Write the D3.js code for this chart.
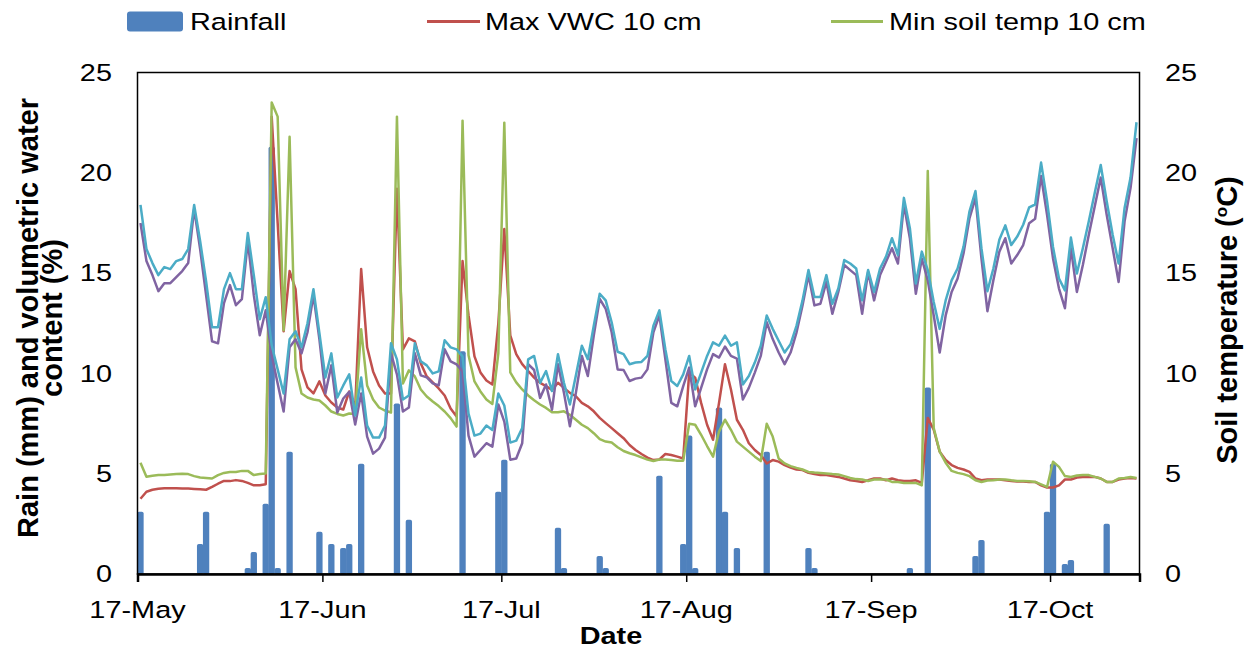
<!DOCTYPE html>
<html><head><meta charset="utf-8">
<script src="https://cdn.jsdelivr.net/npm/d3@7"></script>
<style>
html,body{margin:0;padding:0;background:#fff;}
svg{display:block;font-family:Arial,"Liberation Sans",sans-serif;}
</style></head>
<body><svg id="c" width="1250" height="651"></svg>
<script>
// ---------- data ----------
const startDate = "2017-05-17";
const endDate = "2017-11-01";
const xTickDates = ["2017-05-17","2017-06-17","2017-07-17","2017-08-17","2017-09-17","2017-10-17"];
const xTickLabels = ["17-May","17-Jun","17-Jul","17-Aug","17-Sep","17-Oct"];
const yTicks = [0,5,10,15,20,25];

const rainDates = ["2017-05-17","2017-05-27","2017-05-28","2017-06-04","2017-06-05","2017-06-07","2017-06-08","2017-06-09","2017-06-11",
 "2017-06-16","2017-06-18","2017-06-20","2017-06-21","2017-06-23","2017-06-29","2017-07-01","2017-07-10","2017-07-16","2017-07-17",
 "2017-07-26","2017-07-27","2017-08-02","2017-08-03","2017-08-12","2017-08-16","2017-08-17","2017-08-18","2017-08-22","2017-08-23",
 "2017-08-25","2017-08-30","2017-09-06","2017-09-07","2017-09-23","2017-09-26","2017-10-04","2017-10-05","2017-10-16","2017-10-17",
 "2017-10-19","2017-10-20","2017-10-26"];
const rainMm = [3.1,1.5,3.1,0.3,1.1,3.5,21.3,0.3,6.1,
 2.1,1.5,1.3,1.5,5.5,8.5,2.7,11.1,4.1,5.7,
 2.3,0.3,0.9,0.3,4.9,1.5,6.9,0.3,8.3,3.1,
 1.3,6.1,1.3,0.3,0.3,9.3,0.9,1.7,3.1,5.5,
 0.5,0.7,2.5];

// daily values from 17-May (168 days)
const maxVWC10 = [3.75,4.1,4.2,4.25,4.27,4.27,4.27,4.26,4.26,4.24,4.22,4.2,4.34,4.5,4.64,4.63,4.68,4.64,4.54,4.42,
 4.42,4.47,22.8,17.5,12.1,15.1,14.2,10.2,9.3,9.0,9.6,8.9,8.55,8.3,8.2,9.1,8.3,15.2,11.3,10.1,
 9.4,9.0,9.0,19.2,11.2,11.75,11.6,10.5,9.85,9.55,9.25,8.9,8.25,7.85,15.6,12.9,10.85,10.05,9.65,9.45,
 12.5,17.2,11.9,10.96,10.46,10.12,9.79,9.53,9.37,9.17,9.53,9.28,9.03,8.86,8.53,8.36,8.11,7.78,7.52,7.27,
 7.02,6.77,6.43,6.18,5.98,5.8,5.68,5.71,5.98,5.93,5.85,5.76,10.04,9.79,8.53,7.44,6.69,8.53,10.46,9.2,
 7.69,7.19,6.52,6.18,5.93,5.51,5.68,5.6,5.43,5.31,5.21,5.18,5.04,4.98,4.93,4.93,4.89,4.84,4.76,4.67,
 4.64,4.59,4.67,4.76,4.76,4.67,4.76,4.67,4.64,4.64,4.67,4.54,7.78,7.19,6.1,5.68,5.43,5.29,5.21,5.09,
 4.76,4.67,4.71,4.71,4.71,4.67,4.64,4.61,4.61,4.59,4.59,4.42,4.31,4.31,4.42,4.71,4.71,4.81,4.84,4.84,
 4.84,4.76,4.59,4.59,4.71,4.76,4.79,4.76];
const minSoilTemp10 = [5.55,4.85,4.9,4.93,4.93,4.96,4.98,5.0,4.98,4.88,4.81,4.79,4.76,4.93,5.04,5.09,5.09,5.14,5.14,4.93,
 4.98,5.01,23.5,22.8,12.15,21.8,10.3,9.0,8.8,8.7,8.65,8.4,8.1,7.98,7.9,8.0,7.98,12.2,9.4,8.7,
 8.3,8.15,8.05,22.8,9.5,10.15,9.85,9.2,8.85,8.6,8.37,8.1,7.77,7.35,22.6,10.9,9.6,9.1,8.7,8.48,
 11.0,22.5,10.05,9.55,9.2,8.9,8.66,8.45,8.28,8.06,8.06,8.11,7.94,7.69,7.44,7.27,7.02,6.72,6.6,6.55,
 6.32,6.13,6.02,5.93,5.81,5.7,5.63,5.71,5.71,5.68,5.65,5.65,7.49,7.44,6.94,6.38,5.85,7.1,7.69,7.19,
 6.6,6.35,6.1,5.85,5.63,7.49,6.85,5.76,5.51,5.38,5.29,5.21,5.09,5.06,5.04,5.01,4.98,4.96,4.88,4.79,
 4.73,4.71,4.64,4.71,4.71,4.71,4.59,4.59,4.54,4.54,4.54,4.42,20.09,7.27,6.1,5.55,5.14,5.04,4.98,4.88,
 4.67,4.59,4.66,4.67,4.71,4.71,4.67,4.64,4.64,4.62,4.59,4.47,4.34,5.6,5.34,4.88,4.84,4.91,4.93,4.93,
 4.84,4.76,4.59,4.59,4.76,4.79,4.84,4.79];
const soilTempA = [17.5,15.6,14.9,14.1,14.5,14.5,14.8,15.1,15.5,18.2,16.2,13.9,11.6,11.5,13.5,14.4,13.4,13.7,16.6,13.9,
 11.9,13.15,10.9,9.5,8.1,11.3,11.7,11.0,12.05,13.9,11.7,9.0,10.4,8.05,8.75,9.08,7.45,9.0,6.85,6.0,
 6.25,6.8,11.0,9.95,8.1,8.3,11.0,9.9,9.8,9.5,9.4,11.2,10.6,10.45,10.1,6.9,5.85,6.18,6.52,6.35,
 8.45,7.6,5.7,5.76,6.52,10.46,10.17,8.78,9.45,8.19,10.46,9.03,7.36,9.03,10.87,9.87,11.88,13.72,13.22,12.05,
 10.2,10.17,9.62,9.74,9.79,10.2,12.05,12.89,10.71,8.53,8.36,9.37,10.29,8.36,9.28,10.2,10.96,10.79,11.34,10.87,
 10.74,8.7,9.28,10.04,10.87,12.55,11.71,11.04,10.46,11.04,12.05,13.39,14.9,13.39,13.47,14.56,12.97,14.06,15.4,15.15,
 14.9,12.97,15.06,13.64,14.9,15.57,16.24,15.48,18.42,16.74,13.97,15.73,14.64,12.89,11.04,12.89,14.06,14.73,15.99,17.74,
 18.75,15.73,13.1,14.64,16.07,16.74,15.48,15.9,16.4,17.49,17.71,19.84,17.91,15.73,14.23,13.25,16.24,14.06,15.4,16.91,
 18.33,19.76,17.91,16.24,14.56,17.58,19.25,21.73];
const soilTempB = [18.4,16.2,15.5,14.9,15.3,15.2,15.6,15.7,16.2,18.4,16.6,14.6,12.3,12.3,14.2,15.0,14.2,14.2,17.0,14.9,
 12.7,13.8,11.4,10.2,9.0,11.7,12.1,11.3,12.5,14.2,12.0,9.8,11.0,8.8,9.4,9.95,7.9,9.8,7.4,6.8,
 6.8,7.4,11.5,10.7,8.7,8.9,11.5,10.6,10.4,10.0,10.1,11.65,11.3,11.2,10.85,8.0,6.9,7.0,7.4,7.18,
 9.0,8.4,6.55,6.65,7.27,10.7,10.87,9.53,10.12,9.12,10.96,9.53,8.45,9.9,11.38,10.71,12.38,13.97,13.64,12.55,
 11.08,10.96,10.46,10.54,10.57,10.87,12.38,13.14,11.21,9.62,9.37,9.95,10.87,9.2,10.04,10.87,11.55,11.38,11.88,11.38,
 11.55,9.45,9.87,10.54,11.38,12.89,12.22,11.63,11.04,11.46,12.38,13.64,15.15,13.81,13.81,14.9,13.47,14.23,15.65,15.48,
 15.23,13.64,15.15,14.06,15.23,15.82,16.74,15.9,18.75,17.24,14.48,16.07,15.15,13.56,12.22,13.64,14.64,15.23,16.32,18.08,
 19.09,16.24,14.1,15.23,16.66,17.38,16.4,16.82,17.41,18.28,18.42,20.51,18.6,16.3,14.73,14.14,16.77,14.98,16.24,17.58,
 19.0,20.39,18.58,16.91,15.48,18.25,19.76,22.52];

// ---------- layout ----------
const SX = 1.24; // horizontal text stretch seen in the picture
const plot = {left:137.5, right:1139.5, top:72.5, bottom:574};
const colors = {rain:"#4F81BD", red:"#C0504D", green:"#9BBB59", purple:"#8064A2", cyan:"#4BACC6"};

const parse = d3.utcParse("%Y-%m-%d");
const days = d3.utcDay.range(parse(startDate), parse(endDate));
const svg = d3.select("#c");

const x = d3.scaleUtc().domain([parse(startDate), parse(endDate)]).range([plot.left, plot.right]);
const yL = d3.scaleLinear().domain([0,25]).range([plot.bottom, plot.top]);
const yR = d3.scaleLinear().domain([0,25]).range([plot.bottom, plot.top]);
const mid = d => new Date(d.getTime() + 12*3600*1000);
const slot = x(d3.utcDay.offset(parse(startDate),1)) - x(parse(startDate));

function sText(g, tx, ty, str, o={}) {
  const sx = o.sx !== undefined ? o.sx : SX;
  const t = g.append("text")
    .attr("transform", `translate(${tx},${ty}) scale(${sx},1)` + (o.rotate ? ` rotate(${o.rotate})` : ""))
    .attr("text-anchor", o.anchor || "start")
    .attr("font-size", o.size || 23.3)
    .attr("font-weight", o.bold ? "bold" : "normal")
    .attr("fill", "#000")
    .text(str);
  return t;
}

// bars
svg.append("g").selectAll("rect").data(rainDates.map((d,i)=>({d:parse(d), v:rainMm[i]}))).join("rect")
  .attr("x", d => x(mid(d.d)) - slot*0.53)
  .attr("width", slot*1.06)
  .attr("y", d => yL(d.v))
  .attr("height", d => yL(0) - yL(d.v))
  .attr("rx", 1.8)
  .attr("fill", colors.rain);

// lines
const series = [
  {vals:maxVWC10, color:colors.red, scale:yL},
  {vals:minSoilTemp10, color:colors.green, scale:yR},
  {vals:soilTempA, color:colors.purple, scale:yR},
  {vals:soilTempB, color:colors.cyan, scale:yR}
];
series.forEach(s => {
  const line = d3.line().x((v,i)=>x(mid(days[i]))).y(v=>s.scale(v));
  svg.append("path").attr("d", line(s.vals)).attr("fill","none")
    .attr("stroke", s.color).attr("stroke-width", 2.5).attr("stroke-linejoin","round");
});

// plot frame
svg.append("rect").attr("x",plot.left).attr("y",plot.top)
  .attr("width",plot.right-plot.left).attr("height",plot.bottom-plot.top)
  .attr("fill","none").attr("stroke","#000").attr("stroke-width",1.5);

// x axis
const xAxis = d3.axisBottom(x).tickValues(xTickDates.map(parse)).tickSize(8).tickFormat("");
const gx = svg.append("g").attr("transform",`translate(0,${plot.bottom})`).call(xAxis);
gx.select(".domain").attr("stroke","#000").attr("stroke-width",2.5);
gx.selectAll(".tick line").attr("stroke","#000").attr("stroke-width",1.5);
xTickDates.forEach((d,i)=> sText(svg, x(parse(d)), 618, xTickLabels[i], {anchor:"middle"}));

// y axes labels
const tickFmt = d3.format("d");
yTicks.forEach(t => {
  sText(svg, 112, yL(t)+8.3, tickFmt(t), {anchor:"end"});
  sText(svg, 1165, yR(t)+8.3, tickFmt(t), {anchor:"start"});
});

// axis titles
sText(svg, 611, 644, "Date", {anchor:"middle", bold:true});
sText(svg, 38, 318, "Rain (mm) and volumetric water", {anchor:"middle", bold:true, rotate:-90, size:29, sx:1});
sText(svg, 62, 318, "content (%)", {anchor:"middle", bold:true, rotate:-90, size:29, sx:1});
const rt = sText(svg, 1237, 320, "", {anchor:"middle", bold:true, rotate:-90, size:29, sx:1});
rt.append("tspan").text("Soil temperature (");
rt.append("tspan").text("o").attr("font-size",17).attr("dy",-10);
rt.append("tspan").text("C)").attr("dy",10);

// legend
const lg = svg.append("g");
lg.append("rect").attr("x",127).attr("y",11.5).attr("width",56).attr("height",20).attr("rx",3).attr("fill",colors.rain);
sText(lg, 190, 30, "Rainfall");
lg.append("line").attr("x1",427).attr("x2",480).attr("y1",21.5).attr("y2",21.5).attr("stroke",colors.red).attr("stroke-width",3);
sText(lg, 485, 30, "Max VWC 10 cm");
lg.append("line").attr("x1",831).attr("x2",883).attr("y1",21.5).attr("y2",21.5).attr("stroke",colors.green).attr("stroke-width",3);
sText(lg, 889, 30, "Min soil temp 10 cm");
</script></body></html>
